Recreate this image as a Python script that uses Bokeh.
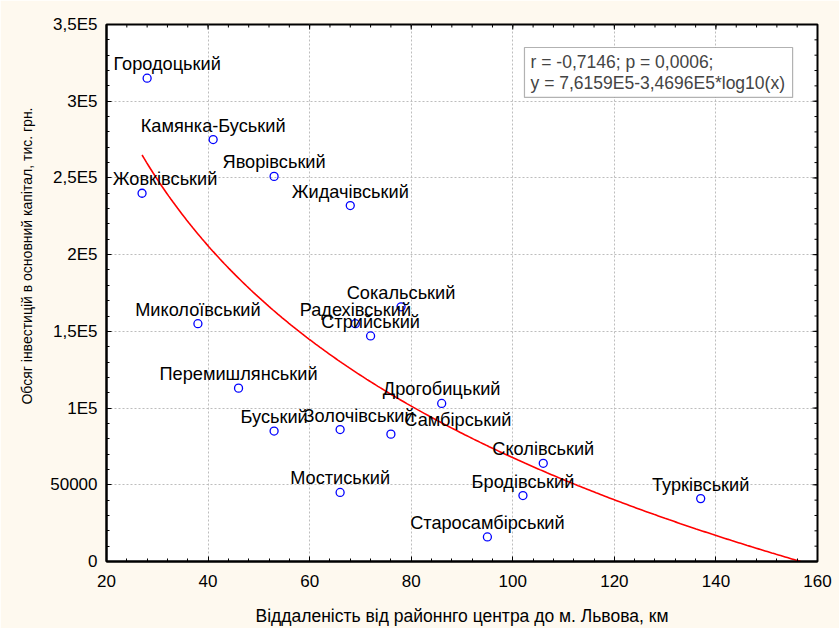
import numpy as np
from bokeh.plotting import figure
from bokeh.models import (FixedTicker, Range1d, ColumnDataSource,
                          BoxAnnotation, Label, Title)
from bokeh.core.properties import value
from bokeh.embed import file_html
from bokeh.resources import INLINE

# ---- data ----
districts = ["Городоцький", "Камянка-Буський", "Яворівський", "Жовківський",
             "Жидачівський", "Миколоївський", "Сокальський", "Радехівський",
             "Стрийський", "Перемишлянський", "Дрогобицький", "Буський",
             "Золочівський", "Самбірський", "Мостиський", "Сколівський",
             "Бродівський", "Старосамбірський", "Турківський"]
distance_km = [28, 41, 53, 27, 68, 38, 78, 69, 72, 46, 86, 53, 66, 76, 66, 106, 102, 95, 137]
investment = [315000, 275000, 251000, 240000, 232000, 155000, 166000, 155000, 147000,
              113000, 103000, 85000, 86000, 83000, 45000, 64000, 43000, 16000, 41000]

fit_a = 7.6159e5
fit_b = -3.4696e5
stats_line1 = "r = -0,7146; p = 0,0006;"
stats_line2 = "y = 7,6159E5-3,4696E5*log10(x)"

x_ticks = [20, 40, 60, 80, 100, 120, 140, 160]
y_ticks = [0, 50000, 100000, 150000, 200000, 250000, 300000, 350000]
y_tick_labels = ["0", "50000", "1E5", "1,5E5", "2E5", "2,5E5", "3E5", "3,5E5"]

x_title = "Віддаленість від районнго центра до м. Львова, км"
y_title = "Обсяг інвестицій в основний капітал, тис. грн."

# ---- style ----
FONT = "Liberation Sans"
label_dx = [20, 0, 0, 23, 0, 0, 0, 0, 0, 0, 0, 0, 19, 67, 0, 0, 0, 0, 0]
W, H = 839, 628
BL, BR, BT, BB = 106, 22, 24, 66
XMIN, XMAX, YMIN, YMAX = 20, 160, 0, 350000
frame_w, frame_h = W - BL - BR, H - BT - BB
ux = (XMAX - XMIN) / frame_w   # data units per pixel
uy = (YMAX - YMIN) / frame_h

p = figure(width=W, height=H, output_backend="svg", toolbar_location=None,
           x_range=Range1d(XMIN, XMAX), y_range=Range1d(YMIN, YMAX),
           min_border_left=BL, min_border_right=BR, min_border_top=BT,
           min_border_bottom=BB)
p.border_fill_color = "#FEF9EF"
p.background_fill_color = "white"
p.outline_line_color = "black"
p.outline_line_width = 2

x_minor = list(np.arange(XMIN, XMAX + 1, 4))
y_minor = list(np.arange(YMIN, YMAX + 1, 10000))
p.xaxis.ticker = FixedTicker(ticks=x_ticks, minor_ticks=x_minor)
p.yaxis.ticker = FixedTicker(ticks=y_ticks, minor_ticks=y_minor)
p.yaxis.major_label_overrides = {t: l for t, l in zip(y_ticks, y_tick_labels)}

for ax in (p.xaxis[0], p.yaxis[0]):
    ax.axis_line_width = 2
    ax.axis_line_color = "black"
    ax.major_tick_in = 5
    ax.major_tick_out = 0
    ax.minor_tick_in = 3
    ax.minor_tick_out = 0
    ax.major_tick_line_color = "black"
    ax.minor_tick_line_color = "black"
    ax.major_label_text_font = FONT
    ax.major_label_text_font_size = "17px"
    ax.major_label_text_color = "black"

p.xaxis.major_label_standoff = 13
p.yaxis.major_label_standoff = 9
p.xaxis.axis_label = x_title
p.xaxis.axis_label_text_font = FONT
p.xaxis.axis_label_text_font_size = "17.5px"
p.xaxis.axis_label_text_font_style = "normal"
p.xaxis.axis_label_text_color = "black"
p.xaxis.axis_label_standoff = 16

# mirrored ticks on top and right edges
top_major = dict(x0=x_ticks, y0=[YMAX] * len(x_ticks), x1=x_ticks, y1=[YMAX - 5 * uy] * len(x_ticks))
top_minor = dict(x0=x_minor, y0=[YMAX] * len(x_minor), x1=x_minor, y1=[YMAX - 3 * uy] * len(x_minor))
rt_major = dict(x0=[XMAX] * len(y_ticks), y0=y_ticks, x1=[XMAX - 5 * ux] * len(y_ticks), y1=y_ticks)
rt_minor = dict(x0=[XMAX] * len(y_minor), y0=y_minor, x1=[XMAX - 3 * ux] * len(y_minor), y1=y_minor)
for d in (top_major, top_minor, rt_major, rt_minor):
    p.segment(source=ColumnDataSource(d), x0="x0", y0="y0", x1="x1", y1="y1",
              line_color="black", line_width=1)

p.grid.grid_line_color = "#BDBDBD"
p.grid.grid_line_dash = "2 2"
p.grid.grid_line_width = 1

# regression curve
cx = np.linspace(min(distance_km), 158, 300)
cy = fit_a + fit_b * np.log10(cx)
p.line(cx, cy, line_color="#FF0000", line_width=1.6)

src = ColumnDataSource(dict(x=distance_km, y=investment, name=districts, dx=label_dx))
p.scatter("x", "y", source=src, size=8, marker="circle", fill_color=None,
          line_color="#0000FF", line_width=1.3)
p.text("x", "y", text="name", source=src, x_offset="dx", y_offset=-14,
       text_align="center", text_baseline="middle",
       text_font=value(FONT), text_font_size="18.2px", text_color="black")

# stats box
p.add_layout(BoxAnnotation(left=102.3, right=155.1, bottom=302500, top=335000,
                           fill_color="white", fill_alpha=1.0,
                           line_color="black", line_width=1.2))
p.add_layout(Label(x=103.5, y=325500, text=stats_line1, text_font=FONT,
                   text_font_size="17.5px", text_baseline="middle", text_align="left"))
p.add_layout(Label(x=103.5, y=311600, text=stats_line2, text_font=FONT,
                   text_font_size="17.5px", text_baseline="middle", text_align="left"))

# y title
p.add_layout(Title(text=y_title, align="right", offset=83, text_font=FONT,
                   text_font_size="14px", text_font_style="normal",
                   text_color="black", standoff=26), "left")

open("out.html", "w").write(file_html(p, INLINE))
